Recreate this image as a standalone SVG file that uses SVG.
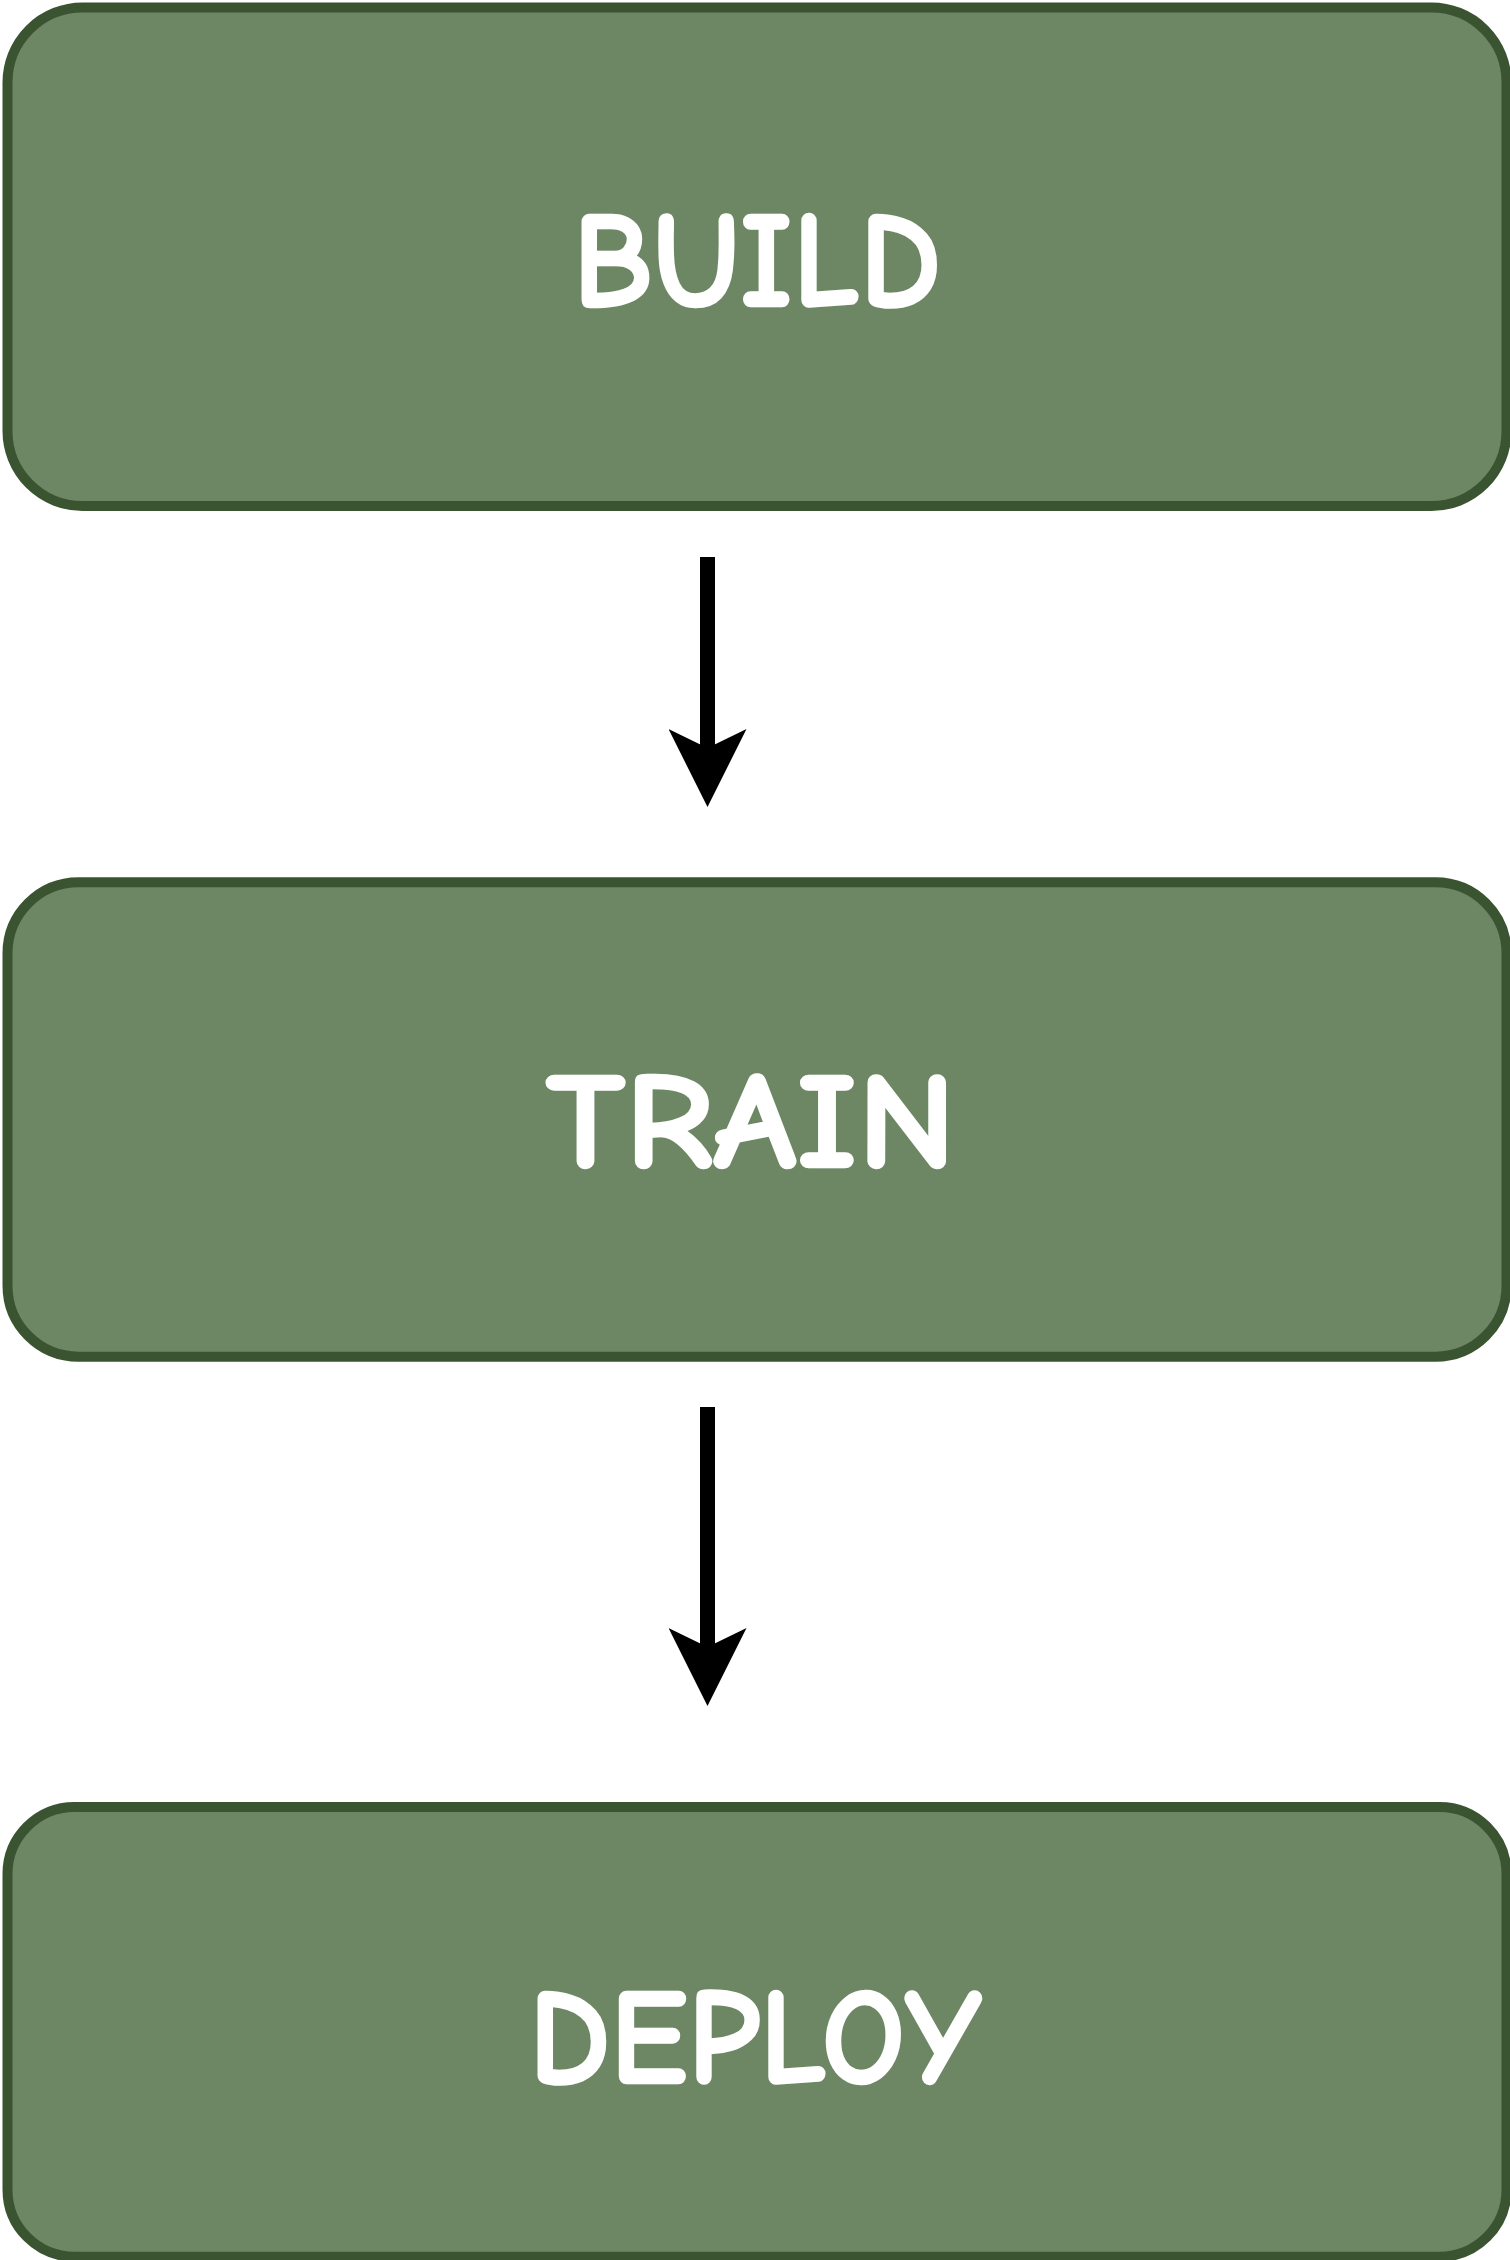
<svg xmlns="http://www.w3.org/2000/svg" width="1510" height="2260" viewBox="0 0 1510 2260">
  <style>
    .box { fill: #6d8764; stroke: #3a5431; stroke-width: 10; }
    .label { fill: #ffffff; stroke: #ffffff; stroke-width: 2.5; stroke-linejoin: round; font-family: "Comic Sans MS", "Comic Neue", "Liberation Sans", sans-serif; font-weight: bold; font-size: 136px; text-anchor: middle; }
    .edge { stroke: #000000; stroke-width: 15; fill: none; marker-end: url(#arrow); }
  </style>
  <defs>
    <marker id="arrow" viewBox="0 0 78 78" markerUnits="userSpaceOnUse" markerWidth="78" markerHeight="78" refX="19" refY="39" orient="auto">
      <path d="M0,0 L78,39 L0,78 L19,39 Z" fill="#000000"/>
    </marker>
  </defs>
  <rect width="1510" height="2260" fill="#ffffff"/>
  <g id="connectors">
    <line id="edge-build-train" class="edge" x1="707.5" y1="557" x2="707.5" y2="748"/>
    <line id="edge-train-deploy" class="edge" x1="707.5" y1="1407" x2="707.5" y2="1647"/>
  </g>
  <g id="node-build">
    <rect class="box" x="7.5" y="7.5" width="1499" height="498.5" rx="75" ry="75"/>
    <text class="label" x="757" y="306" textLength="368" lengthAdjust="spacingAndGlyphs">BUILD</text>
  </g>
  <g id="node-train">
    <rect class="box" x="7.5" y="882.3" width="1499" height="474.4" rx="71" ry="71"/>
    <text class="label" x="751" y="1167" textLength="410" lengthAdjust="spacingAndGlyphs">TRAIN</text>
  </g>
  <g id="node-deploy">
    <rect class="box" x="7.5" y="1807" width="1499" height="449.7" rx="67" ry="67"/>
    <text class="label" x="755" y="2083" textLength="452" lengthAdjust="spacingAndGlyphs">DEPLOY</text>
  </g>
</svg>
